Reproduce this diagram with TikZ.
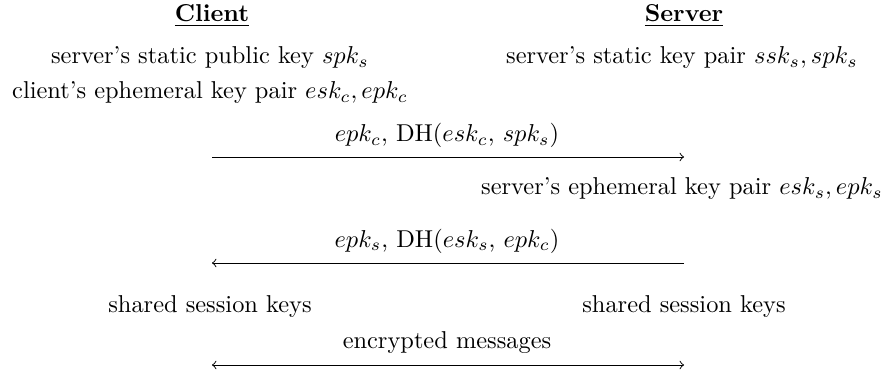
\documentclass[tikz,border=0pt]{standalone}
\begin{document}
\begin{tikzpicture}[x=0.40984pt,y=-0.40984pt,
  txt/.style={anchor=base,inner sep=0pt},
  msg/.style={->},
  msgboth/.style={<->}]
\useasboundingbox (0,0) rectangle (886,377);

% column headers
\node[txt] (client) at (212,22) {\underline{\textbf{Client}}};
\node[txt] (server) at (684,22) {\underline{\textbf{Server}}};

% initial knowledge
\node[txt] (cspk) at (210,64) {server's static public key $spk_s$};
\node[txt] (skp)  at (682,64) {server's static key pair $ssk_s, spk_s$};
\node[txt] (cekp) at (210,99) {client's ephemeral key pair $esk_c, epk_c$};

% first message: client -> server
\coordinate (c1) at (212,157);
\coordinate (s1) at (684,157);
\node[txt] (m1) at (447,142) {$epk_c$, DH($esk_c$, $spk_s$)};
\draw[msg] (c1) -- (s1);

% server's ephemeral key
\node[txt] (sekp) at (682,195) {server's ephemeral key pair $esk_s, epk_s$};

% second message: server -> client
\coordinate (c2) at (212,263);
\coordinate (s2) at (684,263);
\node[txt] (m2) at (447,247) {$epk_s$, DH($esk_s$, $epk_c$)};
\draw[msg] (s2) -- (c2);

% derived keys
\node[txt] (ck) at (210,313) {shared session keys};
\node[txt] (sk) at (684,313) {shared session keys};

% encrypted channel
\coordinate (c3) at (212,365);
\coordinate (s3) at (684,365);
\node[txt] (m3) at (447,348) {encrypted messages};
\draw[msgboth] (c3) -- (s3);
\end{tikzpicture}
\end{document}
